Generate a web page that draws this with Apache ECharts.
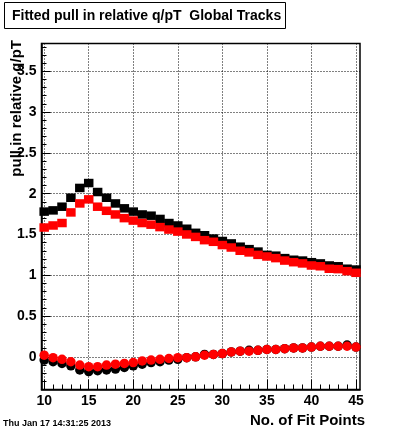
<!DOCTYPE html>
<html><head><meta charset="utf-8">
<script src="https://cdn.jsdelivr.net/npm/echarts@6/dist/echarts.min.js"></script>
<style>html,body{margin:0;padding:0;background:#fff}#c{width:400px;height:433px}</style>
</head><body><div id="c"></div>
<script>
const nFitPoints = [10,11,12,13,14,15,16,17,18,19,20,21,22,23,24,25,26,27,28,29,30,31,32,33,34,35,36,37,38,39,40,41,42,43,44,45];
const blackUpper = [1.78,1.795,1.84,1.95,2.07,2.13,2.02,1.95,1.88,1.82,1.78,1.745,1.73,1.69,1.64,1.61,1.57,1.52,1.49,1.45,1.42,1.39,1.35,1.32,1.29,1.25,1.24,1.21,1.19,1.18,1.16,1.145,1.12,1.11,1.08,1.07];
const redUpper = [1.585,1.61,1.64,1.77,1.88,1.93,1.84,1.79,1.745,1.70,1.67,1.64,1.62,1.59,1.56,1.535,1.50,1.47,1.43,1.41,1.37,1.34,1.30,1.28,1.25,1.23,1.21,1.18,1.16,1.145,1.12,1.11,1.08,1.075,1.05,1.03];
const blackLower = [-0.04,-0.06,-0.08,-0.11,-0.16,-0.18,-0.17,-0.16,-0.15,-0.13,-0.11,-0.09,-0.07,-0.06,-0.04,-0.03,-0.01,0.00,0.03,0.03,0.04,0.06,0.07,0.08,0.08,0.09,0.09,0.10,0.11,0.11,0.12,0.13,0.13,0.13,0.145,0.12];
const redLower = [0.02,-0.01,-0.03,-0.06,-0.10,-0.12,-0.12,-0.10,-0.09,-0.08,-0.07,-0.05,-0.04,-0.03,-0.02,-0.01,-0.01,0.00,0.02,0.03,0.04,0.06,0.07,0.07,0.08,0.09,0.09,0.10,0.11,0.11,0.12,0.13,0.13,0.13,0.13,0.12];
const xMajorTicks = [10,15,20,25,30,35,40,45];
const xMinorTicks = [10,11,12,13,14,15,16,17,18,19,20,21,22,23,24,25,26,27,28,29,30,31,32,33,34,35,36,37,38,39,40,41,42,43,44,45];
const yMajorTicks = [0,0.5,1,1.5,2,2.5,3,3.5];
const yMinorTicks = [-0.4,-0.3,-0.2,-0.1,0,0.1,0.2,0.3,0.4,0.5,0.6,0.7,0.8,0.9,1,1.1,1.2,1.3,1.4,1.5,1.6,1.7,1.8,1.9,2,2.1,2.2,2.3,2.4,2.5,2.6,2.7,2.8,2.9,3,3.1,3.2,3.3,3.4,3.5,3.6,3.7,3.8];
const titleText = 'Fitted pull in relative q/pT  Global Tracks';
const xTitle = 'No. of Fit Points';
const yTitle = 'pull in relative q/pT';
const dateText = 'Thu Jan 17 14:31:25 2013';

const FONT = 'Liberation Sans, Arial, Helvetica, sans-serif';
const xMin = 9.7, xMax = 45.45, yMin = -0.4, yMax = 3.84;
const gridRect = {left: 41.5, right: 40, top: 43.5, bottom: 43.5};

function pairs(ys){ return nFitPoints.map((x,i)=>[x, ys[i]]); }

const chart = echarts.init(document.getElementById('c'), null, {renderer:'canvas'});
chart.setOption({
  animation: false,
  backgroundColor: '#fff',
  grid: [
    Object.assign({show: true, borderColor: '#000', borderWidth: 1.5, backgroundColor: 'transparent'}, gridRect),
    Object.assign({show: false}, gridRect)
  ],
  xAxis: [
    {type: 'value', gridIndex: 0, min: xMin, max: xMax,
     axisLine: {show: true, onZero: false, lineStyle: {color: '#000', width: 1.5}},
     axisTick: {show: true, inside: true, length: 10, customValues: xMajorTicks, lineStyle: {color: '#000', width: 1}},
     axisLabel: {show: true, customValues: xMajorTicks, color: '#000', fontFamily: FONT, fontWeight: 'bold', fontSize: 14, margin: 5},
     splitLine: {show: true, lineStyle: {color: '#000', width: 1, type: [1, 2]}}},
    {type: 'value', gridIndex: 1, min: xMin, max: xMax,
     axisLine: {show: false, onZero: false},
     axisTick: {show: true, inside: true, length: 5, customValues: xMinorTicks, lineStyle: {color: '#000', width: 1}},
     axisLabel: {show: false}, splitLine: {show: false}}
  ],
  yAxis: [
    {type: 'value', gridIndex: 0, min: yMin, max: yMax,
     axisLine: {show: true, onZero: false, lineStyle: {color: '#000', width: 1.5}},
     axisTick: {show: true, inside: true, length: 9, customValues: yMajorTicks, lineStyle: {color: '#000', width: 1}},
     axisLabel: {show: true, customValues: yMajorTicks, color: '#000', fontFamily: FONT, fontWeight: 'bold', fontSize: 14, margin: 5},
     splitLine: {show: true, lineStyle: {color: '#000', width: 1, type: [1, 2]}}},
    {type: 'value', gridIndex: 1, min: yMin, max: yMax,
     axisLine: {show: false, onZero: false},
     axisTick: {show: true, inside: true, length: 5, customValues: yMinorTicks, lineStyle: {color: '#000', width: 1}},
     axisLabel: {show: false}, splitLine: {show: false}}
  ],
  series: [
    {type: 'scatter', xAxisIndex: 0, yAxisIndex: 0, data: pairs(blackUpper), symbol: 'rect', symbolSize: [9.5, 8.5], itemStyle: {color: '#000', opacity: 1}},
    {type: 'scatter', xAxisIndex: 0, yAxisIndex: 0, data: pairs(redUpper), symbol: 'rect', symbolSize: [9.5, 8.5], itemStyle: {color: '#ff0000', opacity: 1}},
    {type: 'scatter', xAxisIndex: 0, yAxisIndex: 0, data: pairs(blackLower), symbol: 'circle', symbolSize: 9.5, itemStyle: {color: '#000', opacity: 1}},
    {type: 'scatter', xAxisIndex: 0, yAxisIndex: 0, data: pairs(redLower), symbol: 'circle', symbolSize: 9.5, itemStyle: {color: '#ff0000', opacity: 1}}
  ],
  graphic: [
    {type: 'rect', shape: {x: 4.5, y: 2.5, width: 281, height: 26}, style: {fill: '#fff', stroke: '#000', lineWidth: 1}, z: 100},
    {type: 'text', x: 12, y: 16, z: 101, style: {text: titleText, font: 'bold 14px ' + FONT, fill: '#000', verticalAlign: 'middle', align: 'left'}},
    {type: 'text', x: 17, y: 40, rotation: Math.PI / 2, z: 101, style: {text: yTitle, font: 'bold 15px ' + FONT, fill: '#000', verticalAlign: 'middle', align: 'right'}},
    {type: 'text', x: 365, y: 421, z: 101, style: {text: xTitle, font: 'bold 15px ' + FONT, fill: '#000', verticalAlign: 'middle', align: 'right'}},
    {type: 'text', x: 3, y: 424, z: 101, style: {text: dateText, font: 'bold 9px ' + FONT, fill: '#000', verticalAlign: 'middle', align: 'left'}}
  ]
});
</script></body></html>
